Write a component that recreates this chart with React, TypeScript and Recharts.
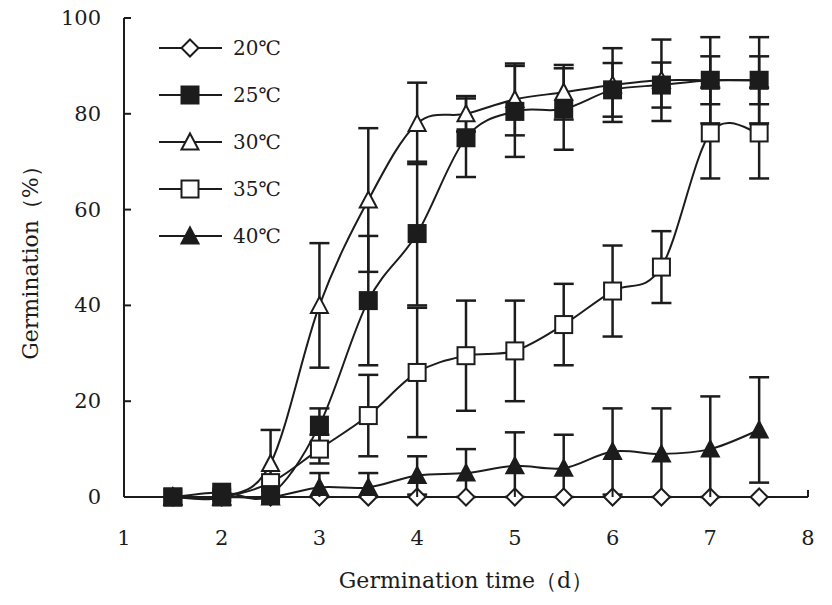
import React from 'react';
import { LineChart, Line, XAxis, YAxis, ErrorBar, Legend } from 'recharts';

const days = [1.5, 2, 2.5, 3, 3.5, 4, 4.5, 5, 5.5, 6, 6.5, 7, 7.5];
const g20 = [0, 0, 0, 0, 0, 0, 0, 0, 0, 0, 0, 0, 0];
const g25 = [0, 1, 0.5, 15, 41, 55, 75, 80.5, 81, 85, 86, 87, 87];
const e25 = [0, 0, 0, 3.5, 13.5, 15, 8.2, 9.5, 8.5, 5.6, 4.7, 5, 5];
const g30 = [0, 0, 7, 40, 62, 78, 80, 83, 84.5, 86, 87, 87, 87];
const e30 = [0, 0, 7, 13, 15, 8.5, 3.7, 7.5, 5.7, 7.7, 8.5, 9, 9];
const g35 = [0, 0, 3, 10, 17, 26, 29.5, 30.5, 36, 43, 48, 76, 76];
const e35 = [0, 0, 0, 3, 8.5, 13.5, 11.5, 10.5, 8.5, 9.5, 7.5, 9.5, 9.5];
const g40 = [0, 0, 0, 2, 2, 4.5, 5, 6.5, 6, 9.5, 9, 10, 14];
const e40 = [0, 0, 0, 3, 3, 4, 5, 7, 7, 9, 9.5, 11, 11];

const xTicks = [1, 2, 3, 4, 5, 6, 7, 8];
const yTicks = [0, 20, 40, 60, 80, 100];
const seriesNames = ['20℃', '25℃', '30℃', '35℃', '40℃'];

const INK = '#1c1c1c';
const FONT = '"DejaVu Serif", "Liberation Serif", serif';

const errOf = (v: number, e: number) => (e > 0 ? [Math.min(v, e), e] : null);

const data = days.map((d, i) => ({
  day: d,
  g20: g20[i],
  g25: g25[i],
  e25: errOf(g25[i], e25[i]),
  g30: g30[i],
  e30: errOf(g30[i], e30[i]),
  g35: g35[i],
  e35: errOf(g35[i], e35[i]),
  g40: g40[i],
  e40: errOf(g40[i], e40[i]),
}));

// Excel-like smoothed line (Catmull-Rom through the points)
const smoothCurve = (context: any) => {
  let pts: [number, number][] = [];
  return {
    areaStart() {},
    areaEnd() {},
    lineStart() {
      pts = [];
    },
    point(x: number, y: number) {
      pts.push([+x, +y]);
    },
    lineEnd() {
      if (!pts.length) return;
      context.moveTo(pts[0][0], pts[0][1]);
      const t = 1 / 6;
      for (let i = 0; i < pts.length - 1; i++) {
        const p0 = pts[i - 1] || pts[i];
        const p1 = pts[i];
        const p2 = pts[i + 1];
        const p3 = pts[i + 2] || p2;
        context.bezierCurveTo(
          p1[0] + (p2[0] - p0[0]) * t,
          p1[1] + (p2[1] - p0[1]) * t,
          p2[0] - (p3[0] - p1[0]) * t,
          p2[1] - (p3[1] - p1[1]) * t,
          p2[0],
          p2[1]
        );
      }
    },
  };
};

type Kind = 'diamond' | 'squareFill' | 'triangle' | 'square' | 'triangleFill';
const kinds: Kind[] = ['diamond', 'squareFill', 'triangle', 'square', 'triangleFill'];

function Marker({ cx, cy, kind }: { cx: number; cy: number; kind: Kind }) {
  const s = 8.5;
  const fill = kind === 'squareFill' || kind === 'triangleFill' ? INK : '#fff';
  const common = { fill, stroke: INK, strokeWidth: 2 };
  if (kind === 'diamond') {
    return <polygon points={`${cx},${cy - s} ${cx + s},${cy} ${cx},${cy + s} ${cx - s},${cy}`} {...common} />;
  }
  if (kind === 'square' || kind === 'squareFill') {
    return <rect x={cx - s} y={cy - s} width={2 * s} height={2 * s} {...common} />;
  }
  return <polygon points={`${cx},${cy - s} ${cx + s},${cy + s - 1} ${cx - s},${cy + s - 1}`} {...common} />;
}

const dotFor = (kind: Kind) => (p: any) => {
  if (p.cx == null || p.cy == null) return <g key={p.index} />;
  return <Marker key={p.index} cx={p.cx} cy={p.cy} kind={kind} />;
};

function XTick({ x, y, payload }: any) {
  return (
    <g>
      <line x1={x} x2={x} y1={y} y2={y - 7} stroke={INK} strokeWidth={2} />
      <text x={x} y={y + 48} textAnchor="middle" fontFamily={FONT} fontSize={21} fill={INK}>
        {payload.value}
      </text>
    </g>
  );
}

function YTick({ x, y, payload }: any) {
  return (
    <g>
      <line x1={x} x2={x + 7} y1={y} y2={y} stroke={INK} strokeWidth={2} />
      <text x={x - 23} y={y + 7} textAnchor="end" fontFamily={FONT} fontSize={21} fill={INK}>
        {payload.value}
      </text>
    </g>
  );
}

function LegendBox() {
  return (
    <svg width={150} height={230}>
      {seriesNames.map((name, i) => {
        const cy = 23 + i * 47;
        return (
          <g key={name}>
            <line x1={4} x2={67} y1={cy} y2={cy} stroke={INK} strokeWidth={2} />
            <Marker cx={35} cy={cy} kind={kinds[i]} />
            <text x={78} y={cy + 7} fontFamily={FONT} fontSize={20} fill={INK}>
              {name}
            </text>
          </g>
        );
      })}
    </svg>
  );
}

export default function App() {
  const lineProps = {
    type: smoothCurve as any,
    stroke: INK,
    strokeWidth: 2,
    isAnimationActive: false,
    activeDot: false as const,
  };
  const barProps = { width: 10, stroke: INK, strokeWidth: 2.5, direction: 'y' as const };
  return (
    <div style={{ position: 'absolute', left: 0, top: 0, background: '#fff' }}>
      <LineChart width={832} height={605} data={data} margin={{ top: 18, right: 24, bottom: 0, left: 0 }}>
        <XAxis
          type="number"
          dataKey="day"
          domain={[1, 8]}
          ticks={xTicks}
          tick={<XTick />}
          tickSize={0}
          tickMargin={0}
          tickLine={false}
          height={108}
          axisLine={{ stroke: INK, strokeWidth: 2 }}
          label={{
            content: ({ viewBox }: any) => (
              <text
                x={viewBox.x + viewBox.width / 2}
                y={viewBox.y + 91}
                textAnchor="middle"
                fontFamily={FONT}
                fontSize={22}
                fill={INK}
              >
                Germination time（d）
              </text>
            ),
          }}
        />
        <YAxis
          type="number"
          domain={[0, 100]}
          ticks={yTicks}
          tick={<YTick />}
          tickSize={0}
          tickMargin={0}
          tickLine={false}
          width={124}
          axisLine={{ stroke: INK, strokeWidth: 2 }}
          label={{
            content: ({ viewBox }: any) => {
              const cx = viewBox.x + 30;
              const cy = viewBox.y + viewBox.height / 2;
              return (
                <text
                  x={cx}
                  y={cy}
                  transform={`rotate(-90 ${cx} ${cy})`}
                  textAnchor="middle"
                  dominantBaseline="central"
                  fontFamily={FONT}
                  fontSize={22}
                  fill={INK}
                >
                  Germination（%）
                </text>
              );
            },
          }}
        />
        <Legend
          layout="vertical"
          align="center"
          verticalAlign="middle"
          content={<LegendBox />}
          wrapperStyle={{ left: 155, top: 25, width: 150, height: 230 }}
        />
        <Line dataKey="g35" {...lineProps} dot={dotFor('square')}>
          <ErrorBar dataKey="e35" {...barProps} />
        </Line>
        <Line dataKey="g30" {...lineProps} dot={dotFor('triangle')}>
          <ErrorBar dataKey="e30" {...barProps} />
        </Line>
        <Line dataKey="g20" {...lineProps} dot={dotFor('diamond')} />
        <Line dataKey="g40" {...lineProps} dot={dotFor('triangleFill')}>
          <ErrorBar dataKey="e40" {...barProps} />
        </Line>
        <Line dataKey="g25" {...lineProps} dot={dotFor('squareFill')}>
          <ErrorBar dataKey="e25" {...barProps} />
        </Line>
      </LineChart>
    </div>
  );
}
